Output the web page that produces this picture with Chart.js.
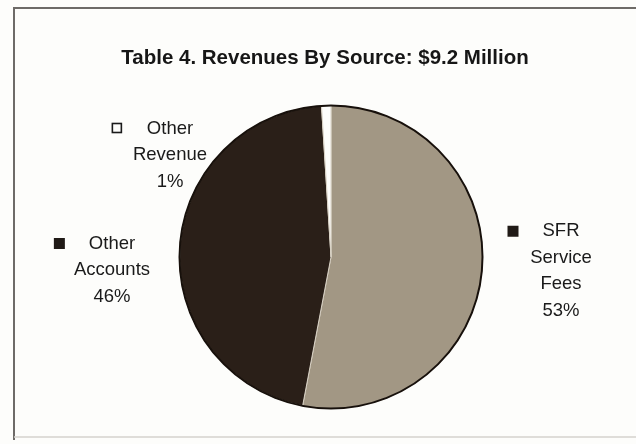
<!DOCTYPE html>
<html>
<head>
<meta charset="utf-8">
<script src="https://cdn.jsdelivr.net/npm/chart.js@4.4.1/dist/chart.umd.min.js"></script>
<style>
  html, body { margin: 0; padding: 0; background: #fdfdfb; }
  #wrap { width: 636px; height: 444px; }
</style>
</head>
<body>
<div id="wrap"><canvas id="revenueChart" width="636" height="444"></canvas></div>
<script>
// revenue split, percent of $9.2M, clockwise from 12 o'clock
const sources = ['SFR Service Fees', 'Other Accounts', 'Other Revenue'];
const shares = [53, 46, 1];
const labelLines = [['SFR', 'Service', 'Fees'], ['Other', 'Accounts'], ['Other', 'Revenue']];
const sliceColors = ['#a29784', '#2a1f18', '#fdfdfb'];
const titleText = 'Table 4. Revenues By Source: $9.2 Million';

// label block centres, relative to the pie centre
const labelOffsets = [[230, 14], [-219, 13], [-161, -102]];

const FONT = 'Arial, Helvetica, sans-serif';

// box around the whole chart, plus the heading
// (drawn here because the layout padding would squeeze the built-in title)
const frame = {
    id: 'frame',
    beforeDraw(chart) {
        const c = chart.ctx;
        c.save();
        c.fillStyle = '#fdfdfb';
        c.fillRect(0, 0, chart.width, chart.height);
        c.strokeStyle = '#6e6b68';
        c.lineWidth = 2;
        c.beginPath();
        c.moveTo(640, 8);
        c.lineTo(14, 8);
        c.lineTo(14, 440);
        c.stroke();
        c.strokeStyle = '#d4d2ce';
        c.lineWidth = 1.5;
        c.beginPath();
        c.moveTo(14, 437);
        c.lineTo(640, 437);
        c.stroke();

        c.font = 'bold 20.5px ' + FONT;
        c.fillStyle = '#161616';
        c.textAlign = 'center';
        c.textBaseline = 'middle';
        c.fillText(titleText, 325, 58);
        c.restore();
    }
};

// dark rim around the pie + outside labels with legend keys
const pieLabels = {
    id: 'pieLabels',
    afterDatasetsDraw(chart) {
        const c = chart.ctx;
        const arcs = chart.getDatasetMeta(0).data;
        const cx = arcs[0].x, cy = arcs[0].y, r = arcs[0].outerRadius;
        c.save();
        c.strokeStyle = '#17100b';
        c.lineWidth = 2;
        c.beginPath();
        c.arc(cx, cy, r, 0, Math.PI * 2);
        c.stroke();

        c.font = '18.5px ' + FONT;
        c.fillStyle = '#1a1a1a';
        c.textAlign = 'center';
        c.textBaseline = 'middle';
        const lineH = 26.5;
        arcs.forEach((arc, i) => {
            const lines = labelLines[i].concat([shares[i] + '%']);
            const bx = cx + labelOffsets[i][0];
            const top = cy + labelOffsets[i][1] - (lines.length - 1) * lineH / 2;
            lines.forEach((t, k) => {
                c.fillText(t, bx, top + k * lineH);
            });
            // legend key left of the first line
            const w = c.measureText(lines[0]).width;
            const kx = bx - w / 2 - 24 - 11;
            const ky = top - 5.5;
            if (i === 2) {
                c.fillStyle = '#fdfdfb';
                c.fillRect(kx, ky, 10, 10);
                c.strokeStyle = '#1a1a1a';
                c.lineWidth = 1.6;
                c.strokeRect(kx + 0.5, ky + 0.5, 9, 9);
                c.fillStyle = '#1a1a1a';
            } else {
                c.fillStyle = '#201a16';
                c.fillRect(kx, ky, 11, 11);
                c.fillStyle = '#1a1a1a';
            }
        });
        c.restore();
    }
};

new Chart(document.getElementById('revenueChart'), {
    type: 'pie',
    data: {
        labels: sources,
        datasets: [{
            data: shares,
            backgroundColor: sliceColors,
            borderColor: '#d8d1c4',
            borderWidth: 1
        }]
    },
    options: {
        responsive: false,
        animation: false,
        events: [],
        layout: { padding: { left: 179, right: 153, top: 105, bottom: 35 } },
        plugins: {
            legend: { display: false },
            tooltip: { enabled: false },
            title: { display: false }
        }
    },
    plugins: [frame, pieLabels]
});
</script>
</body>
</html>
